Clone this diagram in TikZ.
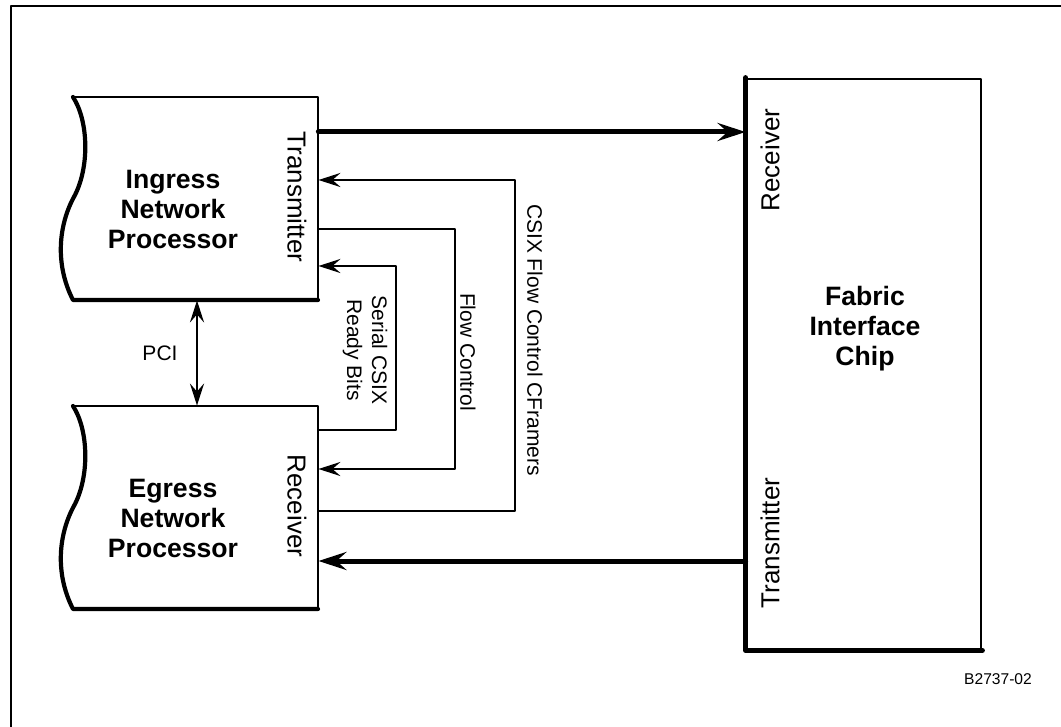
\documentclass[tikz,border=0pt]{standalone}
\usepackage{fontspec}
\setmainfont{Liberation Sans}
\usetikzlibrary{arrows.meta,fit}
\tikzset{
  box/.style={inner sep=0pt},
  title/.style={align=center,font=\fontsize{13.3}{15}\selectfont\bfseries},
  port/.style={font=\fontsize{13}{15}\selectfont},
  chan/.style={align=center,font=\fontsize{10.5}{12.5}\selectfont},
  thintip/.tip={Stealth[length=11pt,width=7pt,inset=4pt]},
  thinarrow/.style={line width=1.4pt,-thintip},
  bigarrow/.style={line width=2.5pt,-{Stealth[length=14pt,width=9pt,inset=5pt]}},
}
\begin{document}
\begin{tikzpicture}[x=0.5pt,y=-0.5pt,line cap=round,line join=round]
\useasboundingbox (0,0) rectangle (1061,727);
\draw[line width=1.2pt] (11,727) -- (11,6) -- (1061,6);
% the two network processors
\foreach \y/\nm/\txt/\prt in {97/ingress/Ingress/Transmitter,406/egress/Egress/Receiver}{
  \node[box,fit={(73,\y) (318,\y+203)}] (\nm) {};
  \draw[line width=1.4pt] (73,\y) -- (318,\y) -- (318,\y+203);
  \draw[line width=2.1pt] (318,\y+203) -- (73,\y+203)
    .. controls (55,\y+168) and (58,\y+128) .. (75,\y+98)
    .. controls (90,\y+68) and (88,\y+23) .. (73,\y);
  \node[title] (\nm txt) at (173,\y+112) {\txt\\Network\\Processor};
  \node[port,rotate=-90] (\nm port) at (297,\y+100) {\prt};
}
% fabric interface chip
\node[box,draw,line width=1.4pt,fit={(747,79) (981,649)}] (fabric) {};
\draw[line width=2.5pt] (fabric.north west) -- (fabric.south west) -- (fabric.south east);
\node[title] (fabrictxt) at (865,329) {Fabric\\Interface\\Chip};
\node[port,rotate=90] (fabricrx) at (770,160) {Receiver};
\node[port,rotate=90] (fabrictx) at (770,543) {Transmitter};
% data paths
\draw[bigarrow] (ingress.east |- 0,132) -- (fabric.west |- 0,132);
\draw[bigarrow] (fabric.west |- 0,561) -- (egress.east |- 0,561);
% flow control loops
\draw[thinarrow] (egress.east |- 0,511) -- (515,511) -- (515,180) -- (ingress.east |- 0,180);
\draw[thinarrow] (ingress.east |- 0,229) -- (455,229) -- (455,469) -- (egress.east |- 0,469);
\draw[thinarrow] (egress.east |- 0,430) -- (396,430) -- (396,266) -- (ingress.east |- 0,266);
\draw[thinarrow,thintip-thintip] (ingress.south -| 197,0) -- (egress.north -| 197,0);
\node[chan,rotate=-90] (cframes) at (535,340) {CSIX Flow Control CFramers};
\node[chan,rotate=-90] (flowctl) at (468,352) {Flow Control};
\node[chan,rotate=-90] (readybits) at (365,350) {Serial CSIX\\Ready Bits};
\node[chan] (pci) at (160,353) {PCI};
\node[font=\fontsize{7.8}{9}\selectfont] (figid) at (998,679) {B2737-02};
\end{tikzpicture}
\end{document}
